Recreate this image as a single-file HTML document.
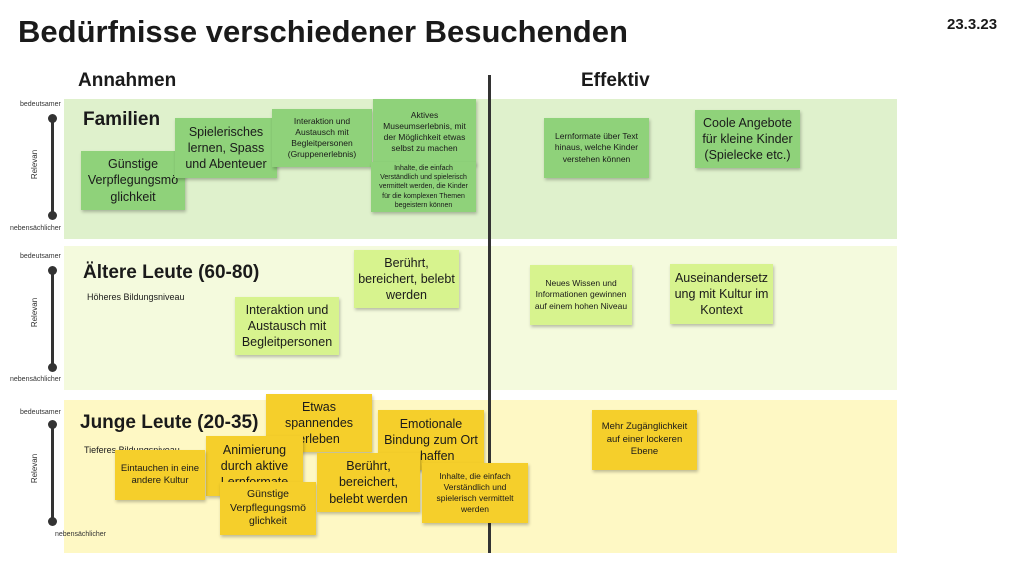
<!DOCTYPE html>
<html><head><meta charset="utf-8"><style>
body{margin:0;width:1024px;height:576px;background:#fff;position:relative;overflow:hidden;font-family:"Liberation Sans",sans-serif;color:#1a1a1a}
.a{position:absolute}
.p{position:absolute;left:64px;width:833px}
.n{position:absolute;display:flex;align-items:center;justify-content:center;text-align:center;box-shadow:1px 2px 3px rgba(0,0,0,.25);box-sizing:border-box;padding:4px;line-height:1.3}
.g{background:#8fd27a}.l{background:#d7f38e}.y{background:#f5cf2b}
.s{font-size:8.5px}.m{font-size:12.5px}
.ax{position:absolute;left:51px;width:3px;background:#333}
.dot{position:absolute;left:48px;width:9px;height:9px;border-radius:50%;background:#333}
.lb{position:absolute;font-size:7px;color:#333}
.rel{position:absolute;font-size:8px;color:#333;transform:rotate(-90deg);transform-origin:center}
</style></head><body>
<div class="a" style="left:18px;top:14px;font-size:31px;font-weight:bold">Bedürfnisse verschiedener Besuchenden</div>
<div class="a" style="left:947px;top:16px;font-size:15px;font-weight:bold">23.3.23</div>
<div class="a" style="left:78px;top:70px;font-size:19px;font-weight:bold">Annahmen</div>
<div class="a" style="left:581px;top:70px;font-size:19px;font-weight:bold">Effektiv</div>

<div class="p" style="top:99px;height:140px;background:#dff1cc"></div>
<div class="p" style="top:246px;height:144px;background:#f4fadd"></div>
<div class="p" style="top:400px;height:153px;background:#fef8c4"></div>
<div class="a" style="left:488px;top:75px;width:3px;height:478px;background:#333"></div>

<div class="lb" style="left:20px;top:101px">bedeutsamer</div>
<div class="ax" style="top:118px;height:98px"></div><div class="dot" style="top:114px"></div><div class="dot" style="top:211px"></div>
<div class="lb" style="left:10px;top:225px">nebensächlicher</div>
<div class="rel" style="left:20px;top:160px">Relevan</div>

<div class="lb" style="left:20px;top:253px">bedeutsamer</div>
<div class="ax" style="top:270px;height:98px"></div><div class="dot" style="top:266px"></div><div class="dot" style="top:363px"></div>
<div class="lb" style="left:10px;top:376px">nebensächlicher</div>
<div class="rel" style="left:20px;top:308px">Relevan</div>

<div class="lb" style="left:20px;top:409px">bedeutsamer</div>
<div class="ax" style="top:424px;height:98px"></div><div class="dot" style="top:420px"></div><div class="dot" style="top:517px"></div>
<div class="lb" style="left:55px;top:531px">nebensächlicher</div>
<div class="rel" style="left:20px;top:464px">Relevan</div>

<div class="a" style="left:83px;top:109px;font-size:19px;font-weight:bold">Familien</div>
<div class="n g m" style="left:81px;top:151px;width:104px;height:59px">Günstige Verpflegungsmö glichkeit</div>
<div class="n g m" style="left:175px;top:118px;width:102px;height:60px">Spielerisches lernen, Spass und Abenteuer</div>
<div class="n g s" style="left:272px;top:109px;width:100px;height:58px">Interaktion und Austausch mit Begleitpersonen (Gruppenerlebnis)</div>
<div class="n g s" style="left:373px;top:99px;width:103px;height:66px">Aktives Museumserlebnis, mit der Möglichkeit etwas selbst zu machen</div>
<div class="n g" style="left:371px;top:162px;width:105px;height:50px;font-size:7px">Inhalte, die einfach Verständlich und spielerisch vermittelt werden, die Kinder für die komplexen Themen begeistern können</div>
<div class="n g s" style="left:544px;top:118px;width:105px;height:60px">Lernformate über Text hinaus, welche Kinder verstehen können</div>
<div class="n g m" style="left:695px;top:110px;width:105px;height:58px">Coole Angebote für kleine Kinder (Spielecke etc.)</div>

<div class="a" style="left:83px;top:262px;font-size:19px;font-weight:bold">Ältere Leute (60-80)</div>
<div class="a" style="left:87px;top:292px;font-size:9px">Höheres Bildungsniveau</div>
<div class="n l m" style="left:354px;top:250px;width:105px;height:58px">Berührt, bereichert, belebt werden</div>
<div class="n l m" style="left:235px;top:297px;width:104px;height:58px">Interaktion und Austausch mit Begleitpersonen</div>
<div class="n l s" style="left:530px;top:265px;width:102px;height:60px">Neues Wissen und Informationen gewinnen auf einem hohen Niveau</div>
<div class="n l m" style="left:670px;top:264px;width:103px;height:60px">Auseinandersetz ung mit Kultur im Kontext</div>

<div class="a" style="left:80px;top:412px;font-size:19px;font-weight:bold">Junge Leute (20-35)</div>
<div class="a" style="left:84px;top:445px;font-size:9px">Tieferes Bildungsniveau</div>
<div class="n y m" style="left:266px;top:394px;width:106px;height:58px">Etwas spannendes erleben</div>
<div class="n y m" style="left:378px;top:410px;width:106px;height:60px">Emotionale Bindung zum Ort schaffen</div>
<div class="n y m" style="left:206px;top:436px;width:97px;height:60px">Animierung durch aktive Lernformate</div>
<div class="n y" style="left:115px;top:450px;width:90px;height:50px;font-size:9.5px">Eintauchen in eine andere Kultur</div>
<div class="n y" style="left:220px;top:482px;width:96px;height:53px;font-size:10.5px">Günstige Verpflegungsmö glichkeit</div>
<div class="n y m" style="left:317px;top:453px;width:103px;height:59px">Berührt, bereichert, belebt werden</div>
<div class="n y s" style="left:422px;top:463px;width:106px;height:60px">Inhalte, die einfach Verständlich und spielerisch vermittelt werden</div>
<div class="n y" style="left:592px;top:410px;width:105px;height:60px;font-size:9.5px">Mehr Zugänglichkeit auf einer lockeren Ebene</div>
</body></html>
